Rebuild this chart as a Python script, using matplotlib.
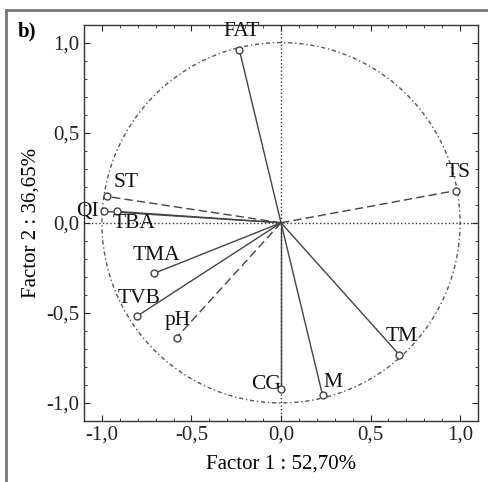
import numpy as np
import matplotlib
matplotlib.use('Agg')
import matplotlib.pyplot as plt
from matplotlib.lines import Line2D
from matplotlib.ticker import MultipleLocator, FuncFormatter

plt.rcParams['font.family'] = ['Liberation Serif', 'DejaVu Serif']

# variable loadings on factor 1 / factor 2
names = ['FAT', 'TS', 'ST', 'QI', 'TBA', 'TMA', 'TVB', 'pH', 'CG', 'M', 'TM']
f1 = [-0.233, 0.978, -0.972, -0.987, -0.913, -0.707, -0.802, -0.583, 0.0, 0.232, 0.661]
f2 = [0.961, 0.179, 0.146, 0.063, 0.063, -0.280, -0.517, -0.637, -0.924, -0.956, -0.733]
styles = ['-', '--', '--', '-', '-', '-', '-', '--', '-', '-', '-']
# where each label sits
lab_x = [-0.217, 0.99, -0.867, -1.08, -0.822, -0.694, -0.794, -0.578, -0.083, 0.289, 0.672]
lab_y = [1.06, 0.28, 0.222, 0.061, -0.005, -0.183, -0.422, -0.544, -0.90, -0.889, -0.633]

fig = plt.figure(figsize=(4.89, 4.82), dpi=100)
ax = fig.add_axes([0.1718, 0.1266, 0.8057, 0.8224])

col = '#444444'
t = np.linspace(0, 2*np.pi, 400)
ax.plot(np.cos(t), np.sin(t), color='#555555', lw=1, dashes=(1, 2, 3, 2))
ax.axhline(0, ls=':', color='#333333', lw=1)
ax.axvline(0, ls=':', color='#333333', lw=1)

for i in range(len(names)):
    ax.plot([0, f1[i]], [0, f2[i]], styles[i], color=col, lw=1, dashes=(6, 3) if styles[i] == '--' else (None, None))
    ax.plot(f1[i], f2[i], 'o', ms=5, mfc='white', mec=col, mew=1)
    ax.text(lab_x[i], lab_y[i], names[i], fontsize=15.5, ha='center', va='center', color='#111111')

ax.set_xlim(-1.1, 1.1)
ax.set_ylim(-1.1, 1.1)
ax.xaxis.set_major_locator(MultipleLocator(0.5))
ax.yaxis.set_major_locator(MultipleLocator(0.5))
ax.xaxis.set_minor_locator(MultipleLocator(0.1))
ax.yaxis.set_minor_locator(MultipleLocator(0.1))
fmt = FuncFormatter(lambda v, p: ('%.1f' % v).replace('.', ',').replace('-0,0', '0,0'))
ax.xaxis.set_major_formatter(fmt)
ax.yaxis.set_major_formatter(fmt)
ax.tick_params(which='both', direction='in', top=True, right=True, labelsize=15, colors='#222222')
ax.tick_params(which='major', length=4)
ax.tick_params(which='minor', length=2)
for s in ax.spines.values():
    s.set_color('#333333')
    s.set_linewidth(1)

ax.set_xlabel('Factor 1 : 52,70%', fontsize=15, labelpad=7)
ax.set_ylabel('Factor 2 : 36,65%', fontsize=15, labelpad=4)
fig.text(27/489, 1-31/482, 'b)', fontsize=15, ha='center', va='center', fontweight='bold')

# frame around the panel (right / bottom are cut off)
fig.add_artist(Line2D([6/489, 6/489], [0, 1-10/482], color='#777777', lw=2))
fig.add_artist(Line2D([6/489, 1], [1-10/482, 1-10/482], color='#777777', lw=2))

fig.savefig('out.png', dpi=100)
